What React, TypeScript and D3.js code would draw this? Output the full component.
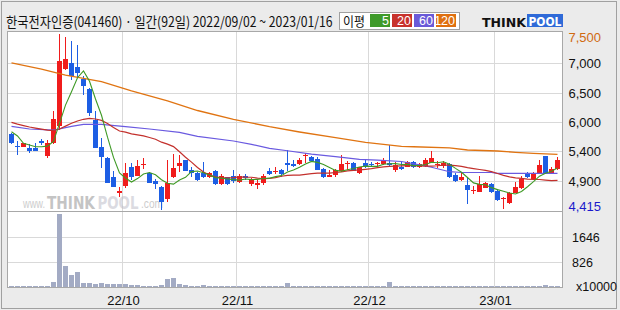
import React, { useLayoutEffect, useRef, useState } from 'react';
import * as d3 from 'd3';

// ---- trading days (categories) ----
const sepDays = [2, 5, 6, 7, 8, 13, 14, 15, 16, 19, 20, 21, 22, 23, 26, 27, 28, 29, 30];
const octDays = [4, 5, 6, 7, 11, 12, 13, 14, 17, 18, 19, 20, 21, 24, 25, 26, 27, 28, 31];
const novDays = [1, 2, 3, 4, 7, 8, 9, 10, 11, 14, 15, 16, 17, 18, 21, 22, 23, 24, 25, 28, 29, 30];
const decDays = [1, 2, 5, 6, 7, 8, 9, 12, 13, 14, 15, 16, 19, 20, 21, 22, 23, 26, 27, 28, 29];
const janDays = [2, 3, 4, 5, 6, 9, 10, 11, 12, 13, 16];
const pad = (n: number) => String(n).padStart(2, '0');
const dates: string[] = [
  ...sepDays.map((d) => `2022-09-${pad(d)}`),
  ...octDays.map((d) => `2022-10-${pad(d)}`),
  ...novDays.map((d) => `2022-11-${pad(d)}`),
  ...decDays.map((d) => `2022-12-${pad(d)}`),
  ...janDays.map((d) => `2023-01-${pad(d)}`),
];

// ---- OHLC ----
const opens = [
  5750, 5545, 5525, 5505, 5495, 5630, 5360, 5585, 5895, 6890,
  6990, 6920, 6710, 6535, 5990, 5520, 5335, 5000, 4705, 4840,
  5165, 5015, 5210, 5070, 4920, 4825, 4605, 4990, 5185, 5290,
  5115, 5060, 5070, 4990, 5105, 4870, 4990, 5010, 4910, 5015,
  4870, 4860, 4895, 5105, 5095, 5115, 5245, 5220, 5220, 5360,
  5350, 5305, 5130, 5000, 5025, 5090, 5225, 5245, 5060, 5235,
  5220, 5225, 5220, 5235, 5115, 5175, 5175, 5260, 5165, 5185,
  5245, 5215, 5185, 5220, 5035, 4940, 4855, 4760, 4735, 4805,
  4870, 4755, 4615, 4530, 4720, 4795, 5070, 4955, 5060, 5360,
  5060, 5130,
];
const highs = [
  5770, 5625, 5595, 5565, 5585, 5665, 5640, 6150, 7500, 7450,
  7380, 7305, 6770, 6560, 6150, 5685, 5340, 5090, 4825, 5235,
  5235, 5290, 5320, 5080, 4955, 4840, 5290, 5395, 5380, 5295,
  5175, 5075, 5260, 5085, 5115, 5045, 5000, 5115, 5045, 5045,
  4970, 4940, 5045, 5155, 5175, 5130, 5465, 5290, 5320, 5420,
  5360, 5340, 5145, 5115, 5130, 5380, 5280, 5260, 5175, 5300,
  5260, 5260, 5320, 5555, 5260, 5260, 5280, 5280, 5245, 5320,
  5450, 5280, 5280, 5245, 5060, 5060, 4970, 4835, 5010, 4910,
  4895, 4775, 4650, 4735, 4910, 5010, 5085, 5085, 5290, 5365,
  5165, 5340,
];
const lows = [
  5580, 5380, 5515, 5410, 5450, 5555, 5320, 5570, 5820, 6870,
  6690, 6750, 6430, 6060, 5500, 5150, 4880, 4820, 4650, 4805,
  4940, 5010, 5130, 4880, 4780, 4415, 4560, 4980, 5085, 5095,
  5000, 4930, 4980, 4970, 4855, 4855, 4855, 4895, 4895, 4940,
  4835, 4780, 4855, 5030, 5045, 5000, 5090, 5165, 5205, 5235,
  5265, 5110, 4980, 4990, 5000, 5085, 5115, 5100, 5045, 5150,
  5175, 5165, 5205, 5175, 5085, 5115, 5165, 5145, 5145, 5175,
  5235, 5145, 5150, 4970, 4910, 4930, 4520, 4695, 4725, 4795,
  4705, 4580, 4430, 4520, 4705, 4775, 4970, 4940, 5040, 5055,
  5055, 5115,
];
const closes = [
  5590, 5530, 5585, 5455, 5455, 5595, 5585, 6005, 7025, 7060,
  6770, 6810, 6595, 6120, 5505, 5350, 4885, 4825, 4755, 5070,
  4990, 5190, 5225, 4885, 4870, 4560, 4885, 5145, 5245, 5105,
  5060, 4940, 4990, 5055, 4870, 5010, 4870, 4930, 5015, 4970,
  4955, 4885, 5010, 5045, 5105, 5045, 5205, 5185, 5290, 5375,
  5280, 5120, 5000, 5030, 5115, 5220, 5235, 5105, 5165, 5195,
  5200, 5235, 5290, 5205, 5205, 5130, 5260, 5165, 5220, 5290,
  5320, 5225, 5245, 5000, 4930, 4985, 4765, 4770, 4870, 4895,
  4735, 4590, 4625, 4720, 4810, 4955, 5000, 5070, 5205, 5060,
  5130, 5290,
];
// volume (x10000)
const volumes = [
  38, 42, 30, 36, 40, 34, 46, 175, 2400, 690,
  395, 493, 142, 142, 109, 142, 109, 109, 88, 109,
  66, 66, 42, 40, 45, 77, 263, 307, 109, 66,
  45, 42, 66, 40, 42, 38, 36, 40, 44, 38,
  36, 40, 42, 38, 44, 40, 142, 46, 44, 48,
  42, 40, 38, 36, 44, 46, 40, 38, 36, 40,
  38, 36, 42, 165, 44, 40, 38, 36, 40, 42,
  46, 38, 40, 46, 42, 38, 48, 40, 44, 42,
  38, 44, 46, 42, 40, 44, 40, 38, 46, 65,
  40, 44,
];

// ---- moving averages ----
const ma5 = [
  5787, 5712, 5584, 5554, 5523, 5524, 5535, 5619, 5933, 6254,
  6489, 6734, 6852, 6671, 6360, 6076, 5691, 5337, 5064, 4977,
  4905, 4966, 5046, 5072, 5032, 4946, 4885, 4869, 4941, 4988,
  5088, 5099, 5068, 5030, 4983, 4973, 4959, 4947, 4939, 4959,
  4948, 4951, 4967, 4973, 5000, 5018, 5082, 5117, 5166, 5220,
  5267, 5250, 5213, 5161, 5109, 5097, 5120, 5141, 5168, 5184,
  5180, 5180, 5217, 5225, 5227, 5213, 5218, 5193, 5196, 5213,
  5251, 5244, 5260, 5216, 5144, 5077, 4985, 4890, 4864, 4857,
  4807, 4772, 4743, 4713, 4696, 4740, 4822, 4911, 5008, 5058,
  5093, 5151,
];
const ma20 = [
  5950, 5920, 5895, 5870, 5850, 5832, 5815, 5808, 5835, 5885,
  5935, 5975, 6005, 6020, 6010, 5985, 5930, 5860, 5800, 5779,
  5749, 5732, 5714, 5685, 5656, 5604, 5569, 5526, 5437, 5339,
  5254, 5160, 5080, 5027, 4995, 4978, 4977, 4983, 4996, 4991,
  4989, 4974, 4963, 4971, 4983, 5007, 5023, 5025, 5027, 5041,
  5052, 5061, 5061, 5060, 5072, 5083, 5101, 5110, 5117, 5128,
  5141, 5158, 5172, 5180, 5185, 5189, 5192, 5191, 5188, 5183,
  5185, 5191, 5203, 5201, 5192, 5180, 5157, 5140, 5125, 5110,
  5087, 5055, 5022, 4997, 4978, 4969, 4956, 4951, 4950, 4939,
  4929, 4933,
];
const ma60Days = [0, 3, 7, 10, 12, 15, 19, 23, 28, 31, 37, 40, 43, 46, 50, 54, 58, 61, 65, 68, 70, 73, 75, 80, 81, 91];
const ma60Values = [5880, 5835, 5815, 5880, 5915, 5915, 5875, 5835, 5775, 5705, 5624, 5566, 5496, 5454, 5396, 5349, 5303, 5290, 5265, 5205, 5165, 5086, 5072, 5072, 5058, 5058];
const ma120Days = [0, 5, 9, 15, 20, 26, 31, 37, 43, 48, 54, 59, 65, 67, 73, 76, 81, 84, 87, 91];
const ma120Values = [6995, 6886, 6781, 6664, 6501, 6326, 6159, 6005, 5875, 5782, 5682, 5601, 5531, 5524, 5505, 5467, 5449, 5426, 5409, 5390];

// ---- axes ----
const priceMax = 7500;
const priceMin = 4415;
const priceGridValues = [6986, 6472, 5957, 5443, 4929];
const priceTickLabels = ['7,000', '6,500', '6,000', '5,400', '4,900'];
const volMax = 2466;
const volGridValues = [1646, 826];
const volTickLabels = ['1646', '826'];
const monthStarts = ['2022-10-04', '2022-11-01', '2022-12-01', '2023-01-02'];
const monthLabels = ['22/10', '22/11', '22/12', '23/01'];
const legendItems = ['5', '20', '60', '120'];

const UP = '#f01c1c';
const DOWN = '#1d5ee4';
const C_MA5 = '#3f9a26';
const C_MA20 = '#c3302c';
const C_MA60 = '#6a5ae0';
const C_MA120 = '#e07412';
const legendColors = ['#3f9a2a', '#c8322c', '#6a5ad8', '#df7010'];
const NUMFONT = '"Liberation Sans", Arial, sans-serif';
const KFONT = '"Noto Sans CJK KR", "Noto Sans", sans-serif';
const BOLDFONT = '"DejaVu Sans", sans-serif';

// Text squeezed horizontally to an exact width (scale transform, measured once)
function FitText(props: {
  x: number;
  y: number;
  width: number;
  fontFamily: string;
  fontSize: number;
  fill: string;
  fontWeight?: string;
  children: string;
}) {
  const ref = useRef<SVGTextElement>(null);
  const [sx, setSx] = useState(1);
  useLayoutEffect(() => {
    if (ref.current) {
      const len = ref.current.getComputedTextLength();
      if (len > 0) setSx(props.width / len);
    }
  }, [props.width, props.children]);
  return (
    <text
      ref={ref}
      transform={`translate(${props.x},${props.y}) scale(${sx},1)`}
      x={0}
      y={0}
      fontFamily={props.fontFamily}
      fontSize={props.fontSize}
      fontWeight={props.fontWeight}
      fill={props.fill}
    >
      {props.children}
    </text>
  );
}

export default function App() {
  const x = d3
    .scaleBand<string>()
    .domain(dates)
    .range([8.5, 560.5])
    .paddingInner(1 / 6)
    .paddingOuter(1 / 12);
  const bw = x.bandwidth();
  const cx = (i: number) => (x(dates[i]) as number) + bw / 2;
  const y = d3.scaleLinear().domain([priceMin, priceMax]).range([210, 34]);
  const yv = d3.scaleLinear().domain([0, volMax]).range([287, 212]);

  const line = d3
    .line<[number, number]>()
    .x((d) => cx(d[0]))
    .y((d) => y(d[1]));

  const ma5Pts = ma5.map((v, i) => [i, v] as [number, number]);
  const ma20Pts = ma20.map((v, i) => [i, v] as [number, number]);
  const ma60Pts = ma60Days.map((dIdx, k) => [dIdx, ma60Values[k]] as [number, number]);
  const ma120Pts = ma120Days.map((dIdx, k) => [dIdx, ma120Values[k]] as [number, number]);

  return (
    <svg
      width={620}
      height={310}
      viewBox="0 0 620 310"
      style={{ position: 'absolute', left: 0, top: 0, display: 'block' }}
    >
      <rect x={0} y={0} width={620} height={310} fill="#ebebeb" />
      <rect x={1.5} y={1.5} width={615} height={307} fill="none" stroke="#a0a0a0" />

      {/* header */}
      <FitText x={6} y={27} width={327} fontFamily={KFONT} fontSize={14} fill="#111">
        한국전자인증(041460) · 일간(92일) 2022/09/02 ~ 2023/01/16
      </FitText>

      {/* legend */}
      <rect x={339.5} y={12.5} width={120} height={17} fill="#fff" stroke="#a0a0a0" />
      <FitText x={343} y={26} width={22} fontFamily={KFONT} fontSize={13} fill="#111">
        이평
      </FitText>
      {legendItems.map((lab, k) => (
        <g key={lab}>
          <rect x={370 + k * 22} y={14} width={20} height={13} fill={legendColors[k]} />
          <text
            x={370 + k * 22 + 19}
            y={25}
            textAnchor="end"
            fontFamily={NUMFONT}
            fontSize={12.5}
            fill="#fff"
          >
            {lab}
          </text>
        </g>
      ))}

      {/* logo */}
      <FitText x={482} y={27} width={44} fontFamily={BOLDFONT} fontWeight="bold" fontSize={13} fill="#111">
        THINK
      </FitText>
      <rect x={527} y={14} width={36} height={13} fill="#2f6ad8" />
      <FitText x={528.5} y={26} width={33} fontFamily={BOLDFONT} fontWeight="bold" fontSize={13} fill="#fff">
        POOL
      </FitText>

      {/* plot background */}
      <rect x={8} y={32} width={554} height={255} fill="#fff" />

      {/* horizontal grid price */}
      {priceGridValues.map((v) => {
        const gy = Math.round(y(v)) + 0.5;
        return <line key={v} x1={8} x2={562} y1={gy} y2={gy} stroke="#d9d9d9" />;
      })}
      {/* horizontal grid volume */}
      {volGridValues.map((v) => {
        const gy = Math.round(yv(v)) + 0.5;
        return <line key={v} x1={8} x2={562} y1={gy} y2={gy} stroke="#d9d9d9" />;
      })}
      {/* vertical grid */}
      {monthStarts.map((d) => {
        const gx = (x(d) as number) - 0.5;
        return <line key={d} x1={gx} x2={gx} y1={32} y2={287} stroke="#d9d9d9" />;
      })}

      {/* watermark */}
      <g opacity={0.5}>
        <FitText x={23} y={208} width={22} fontFamily={NUMFONT} fontSize={12} fill="#9a9a9a">
          www.
        </FitText>
        <FitText x={47} y={209} width={48} fontFamily={BOLDFONT} fontWeight="bold" fontSize={18} fill="#8a8a8a">
          THINK
        </FitText>
        <FitText x={97.5} y={209} width={41} fontFamily={BOLDFONT} fontWeight="bold" fontSize={18} fill="#b8b8c4">
          POOL
        </FitText>
        <FitText x={141} y={208} width={22} fontFamily={NUMFONT} fontSize={13} fill="#9a9a9a">
          .com
        </FitText>
      </g>

      {/* volume bars */}
      {volumes.map((v, i) => {
        const top = Math.min(286, Math.round(yv(v)));
        return (
          <rect
            key={'v' + i}
            x={x(dates[i]) as number}
            y={top}
            width={bw}
            height={287 - top}
            fill="#a3abc4"
          />
        );
      })}

      {/* candles */}
      {dates.map((d, i) => {
        const o = opens[i];
        const c = closes[i];
        const col = c >= o ? UP : DOWN;
        const bx = x(d) as number;
        const top = Math.round(y(Math.max(o, c)));
        const bot = Math.round(y(Math.min(o, c)));
        const wx = bx + bw / 2;
        return (
          <g key={d}>
            <line
              x1={wx}
              x2={wx}
              y1={Math.round(y(highs[i]))}
              y2={Math.round(y(lows[i]))}
              stroke={col}
              strokeWidth={1}
            />
            <rect x={bx} y={top} width={bw} height={Math.max(1, bot - top)} fill={col} />
          </g>
        );
      })}

      {/* moving averages */}
      <path d={line(ma120Pts) || ''} fill="none" stroke={C_MA120} strokeWidth={1.3} />
      <path d={line(ma60Pts) || ''} fill="none" stroke={C_MA60} strokeWidth={1.2} />
      <path d={line(ma20Pts) || ''} fill="none" stroke={C_MA20} strokeWidth={1.2} />
      <path d={line(ma5Pts) || ''} fill="none" stroke={C_MA5} strokeWidth={1.1} />

      {/* frame */}
      <rect x={7.5} y={31.5} width={555} height={256} fill="none" stroke="#a8a8a8" />
      <line x1={8} x2={562} y1={211.5} y2={211.5} stroke="#a8a8a8" />

      {/* right axis */}
      <text x={601} y={42} textAnchor="end" fontFamily={NUMFONT} fontSize={13} fill="#d06a10">
        {d3.format(',')(priceMax)}
      </text>
      {priceGridValues.map((v, k) => (
        <text
          key={v}
          x={601}
          y={Math.round(y(v)) + 5}
          textAnchor="end"
          fontFamily={NUMFONT}
          fontSize={13}
          fill="#111"
        >
          {priceTickLabels[k]}
        </text>
      ))}
      <text x={601} y={211} textAnchor="end" fontFamily={NUMFONT} fontSize={13} fill="#1a1acc">
        {d3.format(',')(priceMin)}
      </text>
      {volGridValues.map((v, k) => (
        <text
          key={v}
          x={572}
          y={Math.round(yv(v)) + 5}
          fontFamily={NUMFONT}
          fontSize={12.5}
          fill="#111"
        >
          {volTickLabels[k]}
        </text>
      ))}
      <text x={576} y={291} fontFamily={NUMFONT} fontSize={12.5} fill="#111">
        x10000
      </text>

      {/* x axis labels */}
      {monthStarts.map((d, k) => (
        <text
          key={d}
          x={(x(d) as number) + 0.5}
          y={305}
          textAnchor="middle"
          fontFamily={NUMFONT}
          fontSize={13}
          fill="#111"
        >
          {monthLabels[k]}
        </text>
      ))}
    </svg>
  );
}
